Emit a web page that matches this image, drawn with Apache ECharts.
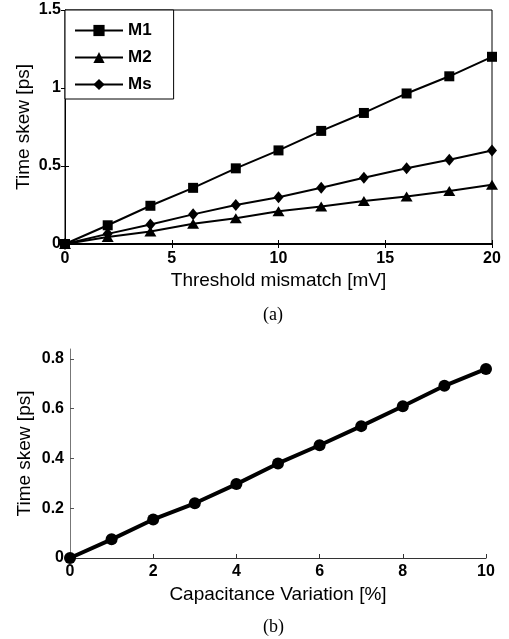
<!DOCTYPE html>
<html>
<head>
<meta charset="utf-8">
<script src="https://cdn.jsdelivr.net/npm/echarts@6/dist/echarts.min.js"></script>
<style>
  html, body { margin: 0; padding: 0; background: #fff; }
  #main { width: 509px; height: 639px; }
</style>
</head>
<body>
<div id="main"></div>
<script>
  // chart (a): time skew vs threshold mismatch
  var mismatch = [0, 2, 4, 6, 8, 10, 12, 14, 16, 18, 20];
  var m1 = [0, 0.12, 0.245, 0.36, 0.485, 0.60, 0.725, 0.84, 0.965, 1.075, 1.20];
  var m2 = [0, 0.045, 0.08, 0.13, 0.165, 0.21, 0.24, 0.275, 0.305, 0.34, 0.38];
  var ms = [0, 0.065, 0.125, 0.19, 0.25, 0.30, 0.36, 0.425, 0.485, 0.54, 0.60];
  // chart (b): time skew vs capacitance variation
  var capVar = [0, 1, 2, 3, 4, 5, 6, 7, 8, 9, 10];
  var skewB = [0, 0.075, 0.155, 0.22, 0.297, 0.38, 0.453, 0.53, 0.61, 0.692, 0.76];
  var yTicksB = [0, 0.2, 0.4, 0.6, 0.8];

  function pairs(xs, ys) {
    return xs.map(function (x, i) { return [x, ys[i]]; });
  }

  var tickFont = { color: '#000', fontFamily: 'Liberation Sans', fontWeight: 'bold', fontSize: 16 };
  var nameFont = { color: '#000', fontFamily: 'Liberation Sans', fontSize: 19 };

  var chart = echarts.init(document.getElementById('main'), null, { renderer: 'canvas' });
  var option = {
    animation: false,
    backgroundColor: '#fff',
    title: [
      { text: '(a)', left: 258, top: 301,
        textStyle: { fontFamily: 'Liberation Serif', fontWeight: 'normal', fontSize: 18, color: '#000' } },
      { text: '(b)', left: 258, top: 613,
        textStyle: { fontFamily: 'Liberation Serif', fontWeight: 'normal', fontSize: 18, color: '#000' } }
    ],
    legend: {
      left: 65, top: 10,
      orient: 'vertical',
      data: ['M1', 'M2', 'Ms'],
      itemWidth: 48, itemHeight: 14, itemGap: 8,
      padding: [11, 22, 5, 9],
      backgroundColor: '#fff',
      borderColor: '#000', borderWidth: 1, borderRadius: 0,
      textStyle: { fontFamily: 'Liberation Sans', fontWeight: 'bold', fontSize: 17, color: '#000', lineHeight: 19 }
    },
    grid: [
      { left: 65, top: 10, width: 427, height: 234, show: true, borderColor: '#000', borderWidth: 1 },
      { left: 70, top: 349, width: 416, height: 209 }
    ],
    xAxis: [
      { type: 'value', gridIndex: 0, min: 0, max: 20, interval: 5,
        name: 'Threshold mismatch [mV]', nameLocation: 'middle', nameGap: 27, nameTextStyle: nameFont,
        nameMoveOverlap: false,
        axisLine: { lineStyle: { color: '#000', width: 2 } },
        axisTick: { inside: true, length: 4, lineStyle: { color: '#000' } },
        axisLabel: Object.assign({ margin: 7 }, tickFont),
        splitLine: { show: false } },
      { type: 'value', gridIndex: 0, min: 0, max: 20, interval: 5, position: 'top',
        axisLine: { show: false },
        axisTick: { inside: true, length: 4, lineStyle: { color: '#000' } },
        axisLabel: { show: false }, splitLine: { show: false } },
      { type: 'value', gridIndex: 1, min: 0, max: 10, interval: 2,
        name: 'Capacitance Variation [%]', nameLocation: 'middle', nameGap: 27, nameTextStyle: nameFont,
        nameMoveOverlap: false,
        axisLine: { lineStyle: { color: '#333', width: 1 } },
        axisTick: { inside: true, length: 4, lineStyle: { color: '#333' } },
        axisLabel: Object.assign({ margin: 6 }, tickFont),
        splitLine: { show: false } }
    ],
    yAxis: [
      { type: 'value', gridIndex: 0, min: 0, max: 1.5, interval: 0.5,
        name: 'Time skew [ps]', nameLocation: 'middle', nameGap: 32, nameTextStyle: nameFont,
        nameMoveOverlap: false,
        axisLine: { lineStyle: { color: '#000', width: 1 } },
        axisTick: { inside: true, length: 4, lineStyle: { color: '#000' } },
        axisLabel: Object.assign({ margin: 4 }, tickFont),
        splitLine: { show: false } },
      { type: 'value', gridIndex: 0, min: 0, max: 1.5, interval: 0.5, position: 'right',
        axisLine: { show: false },
        axisTick: { inside: true, length: 4, lineStyle: { color: '#000' } },
        axisLabel: { show: false }, splitLine: { show: false } },
      { type: 'value', gridIndex: 1, min: 0, max: 0.84,
        name: 'Time skew [ps]', nameLocation: 'middle', nameGap: 36, nameTextStyle: nameFont,
        nameMoveOverlap: false,
        axisLine: { lineStyle: { color: '#777', width: 1 } },
        axisTick: { inside: true, length: 4, customValues: yTicksB, lineStyle: { color: '#555' } },
        axisLabel: Object.assign({ margin: 6, customValues: yTicksB }, tickFont),
        splitLine: { show: false } }
    ],
    series: [
      { name: 'M1', type: 'line', xAxisIndex: 0, yAxisIndex: 0, data: pairs(mismatch, m1),
        symbol: 'rect', symbolSize: 10, lineStyle: { color: '#000', width: 2 },
        itemStyle: { color: '#000' } },
      { name: 'M2', type: 'line', xAxisIndex: 0, yAxisIndex: 0, data: pairs(mismatch, m2),
        symbol: 'triangle', symbolSize: [12, 10], lineStyle: { color: '#000', width: 2 },
        itemStyle: { color: '#000' } },
      { name: 'Ms', type: 'line', xAxisIndex: 0, yAxisIndex: 0, data: pairs(mismatch, ms),
        symbol: 'diamond', symbolSize: [10, 12], lineStyle: { color: '#000', width: 2 },
        itemStyle: { color: '#000' } },
      { name: 'b', type: 'line', xAxisIndex: 2, yAxisIndex: 2, data: pairs(capVar, skewB),
        symbol: 'circle', symbolSize: 12, lineStyle: { color: '#000', width: 4 },
        itemStyle: { color: '#000' } }
    ]
  };
  chart.setOption(option);
</script>
</body>
</html>
